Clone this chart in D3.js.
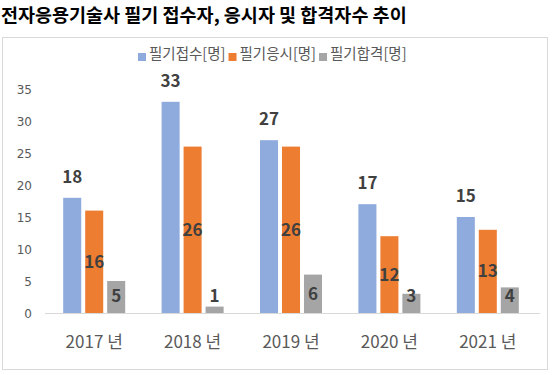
<!DOCTYPE html>
<html>
<head>
<meta charset="utf-8">
<script src="https://cdn.jsdelivr.net/npm/d3@7"></script>
<style>
  body { margin: 0; background: #fff; }
  text { font-family: "Noto Sans CJK KR", "Noto Sans", sans-serif; }
</style>
</head>
<body>
<svg></svg>
<script>
const years = ["2017 년", "2018 년", "2019 년", "2020 년", "2021 년"];
const seriesNames = ["필기접수[명]", "필기응시[명]", "필기합격[명]"];
const applied = [18, 33, 27, 17, 15];
const tested = [16, 26, 26, 12, 13];
const passed = [5, 1, 6, 3, 4];
const yTicks = [0, 5, 10, 15, 20, 25, 30, 35];
const colors = ["#8FAADC", "#ED7D31", "#A5A5A5"];

const width = 555, height = 375;
const svg = d3.select("svg").attr("width", width).attr("height", height);

// 제목
svg.append("text")
    .attr("x", 1).attr("y", 22)
    .text("전자응용기술사 필기 접수자, 응시자 및 합격자수 추이")
    .style("font-size", "18.5px").style("font-weight", "bold").style("fill", "#000");

// 차트 테두리
svg.append("rect")
    .attr("x", 2.5).attr("y", 37.5).attr("width", 545).attr("height", 332)
    .attr("fill", "none").attr("stroke", "#d9d9d9");

const margin = { left: 45, right: 15, top: 89, bottom: 313 };

const x0 = d3.scaleBand().domain(years).range([margin.left, 537]);
const x1 = d3.scaleBand().domain(seriesNames).range([0, 62]).paddingInner(0.18);
const y = d3.scaleLinear().domain([0, 35]).range([313, 89]);

// y축 라벨
svg.append("g").selectAll("text")
    .data(yTicks).enter().append("text")
    .attr("x", 32).attr("y", d => y(d) + 4.5)
    .attr("text-anchor", "end")
    .text(d => d)
    .style("font-family", "'DejaVu Sans', sans-serif")
    .style("font-size", "12px").style("fill", "#595959");

// 기준선
svg.append("line")
    .attr("x1", margin.left).attr("x2", 540)
    .attr("y1", y(0) + 0.5).attr("y2", y(0) + 0.5)
    .attr("stroke", "#d9d9d9");

const data = years.map((yr, i) => ({ yr, vals: [applied[i], tested[i], passed[i]] }));

const groups = svg.append("g").selectAll("g")
    .data(data).enter().append("g")
    .attr("transform", d => `translate(${x0(d.yr) + (x0.bandwidth() - 62) / 2},0)`);

groups.selectAll("rect")
    .data(d => d.vals.map((v, j) => ({ v, j })))
    .enter().append("rect")
    .attr("x", d => x1(seriesNames[d.j]))
    .attr("y", d => y(d.v))
    .attr("width", x1.bandwidth())
    .attr("height", d => y(0) - y(d.v))
    .attr("fill", d => colors[d.j]);

groups.selectAll(".lbl")
    .data(d => d.vals.map((v, j) => ({ v, j })))
    .enter().append("text")
    .attr("class", "lbl")
    .attr("x", d => x1(seriesNames[d.j]) + x1.bandwidth() / 2)
    .attr("y", d => {
        let cy;
        if (d.j === 0) cy = y(d.v) - 21;
        else if (d.j === 1) cy = (y(d.v) + y(0)) / 2;
        else cy = Math.min((y(d.v) + y(0)) / 2, y(0) - 17);
        return cy + 6;
    })
    .attr("text-anchor", "middle")
    .text(d => d.v)
    .style("font-size", "17px").style("font-weight", "bold").style("fill", "#404040");

// x축 라벨
svg.append("g").selectAll("text")
    .data(years).enter().append("text")
    .attr("x", d => x0(d) + x0.bandwidth() / 2)
    .attr("y", 348)
    .attr("text-anchor", "middle")
    .text(d => d)
    .style("font-size", "17px").style("fill", "#595959");

// 범례
const legend = svg.append("g").attr("transform", "translate(138,56)");
let lx = 0;
seriesNames.forEach((name, i) => {
    const g = legend.append("g").attr("transform", `translate(${lx},0)`);
    g.append("rect").attr("x", 0).attr("y", -3).attr("width", 8).attr("height", 8).attr("fill", colors[i]);
    const t = g.append("text").attr("x", 11).attr("y", 0).attr("dy", "0.2em")
        .text(name).style("font-size", "14.5px").style("fill", "#595959");
    lx += 11 + t.node().getComputedTextLength() + 3;
});
</script>
</body>
</html>
